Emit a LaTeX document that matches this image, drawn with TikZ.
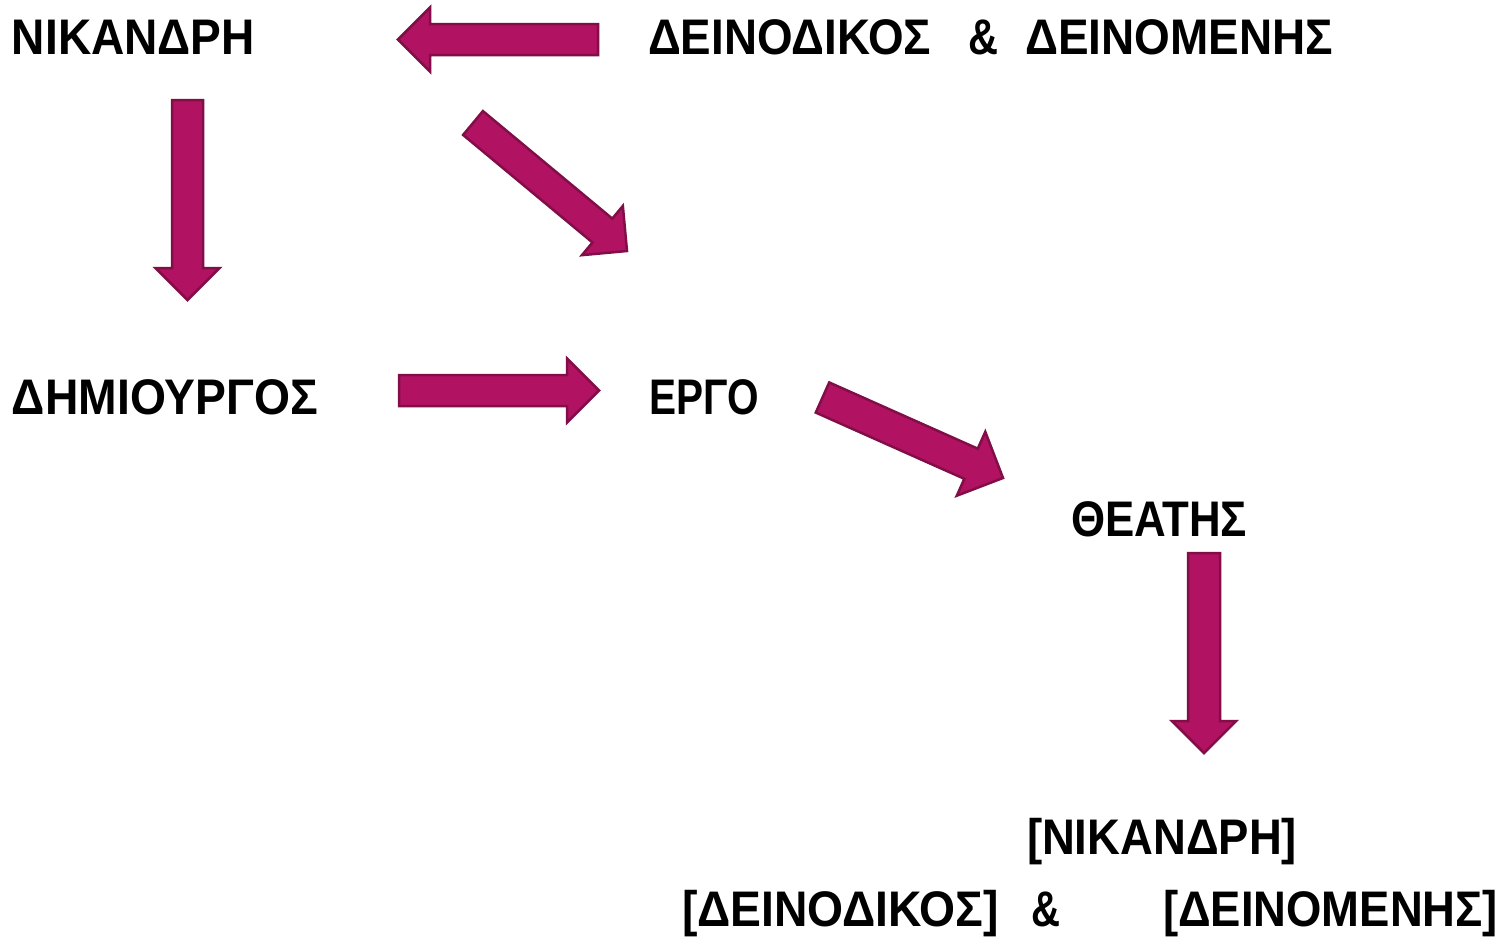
\documentclass[tikz,border=0pt]{standalone}
\usepackage{fontspec}
\setmainfont{Liberation Sans}[BoldFont={* Bold}]
\usepackage{graphicx}
\usetikzlibrary{calc}
\definecolor{arrowfill}{HTML}{B21262}
\definecolor{arrowline}{HTML}{820E48}
\newcommand\fitw[2]{\resizebox{#1}{\height}{#2}}
% block arrow: name, tail, tip, shaft half-width, head half-width
\newcommand\blockarrow[5]{%
  \coordinate (#1-h) at ($(#3)!#5!(#2)$);
  \draw[barrow] ($(#2)!#4!90:(#3)$) -- ($(#1-h)!#4!90:(#3)$) -- ($(#1-h)!#5!90:(#3)$) -- (#3)
    -- ($(#1-h)!#5!-90:(#3)$) -- ($(#1-h)!#4!-90:(#3)$) -- ($(#2)!#4!-90:(#3)$) -- cycle;
}
\begin{document}
\begin{tikzpicture}[x=1pt,y=-1pt,
  lbl/.style={inner sep=0pt, outer sep=0pt, anchor=base west, font=\bfseries\fontsize{50}{60}\selectfont, text=black},
  barrow/.style={fill=arrowfill, draw=arrowline, line width=2.5pt, line join=miter}]
\useasboundingbox[fill=white] (0,0) rectangle (1503,937);

% labels
\node[lbl] (nik) at (12,54) {\fitw{243pt}{ΝΙΚΑΝΔΡΗ}};
\node[lbl] (dd) at (648,54) {\fitw{283pt}{ΔΕΙΝΟΔΙΚΟΣ}\hspace{37pt}\fitw{30pt}{\&}\hspace{27pt}\fitw{308pt}{ΔΕΙΝΟΜΕΝΗΣ}};
\node[lbl] (dim) at (12,414) {\fitw{306pt}{ΔΗΜΙΟΥΡΓΟΣ}};
\node[lbl] (erg) at (649,414) {\fitw{110pt}{ΕΡΓΟ}};
\node[lbl] (the) at (1071,536) {\fitw{176pt}{ΘΕΑΤΗΣ}};
\node[lbl] (nik2) at (1027,854) {\fitw{270pt}{[ΝΙΚΑΝΔΡΗ]}};
\node[lbl] (dd2) at (682,926) {\fitw{317pt}{[ΔΕΙΝΟΔΙΚΟΣ]}\hspace{32pt}\fitw{29pt}{\&}\hspace{103pt}\fitw{335pt}{[ΔΕΙΝΟΜΕΝΗΣ]}};

% arrows
\coordinate (a1t) at (598,39.5);   \coordinate (a1p) at (398,39.5);
\coordinate (a2t) at (187.5,100);  \coordinate (a2p) at (187.5,300);
\coordinate (a3t) at (473,123);    \coordinate (a3p) at (627,251);
\coordinate (a4t) at (399,390.5);  \coordinate (a4p) at (599,390.5);
\coordinate (a5t) at (822.5,397.5);\coordinate (a5p) at (1003,478);
\coordinate (a6t) at (1204,553);   \coordinate (a6p) at (1204,753);
\blockarrow{a1}{a1t}{a1p}{15.5pt}{32pt}
\blockarrow{a2}{a2t}{a2p}{15.5pt}{32pt}
\blockarrow{a3}{a3t}{a3p}{15.5pt}{32pt}
\blockarrow{a4}{a4t}{a4p}{15.5pt}{32pt}
\blockarrow{a5}{a5t}{a5p}{16.5pt}{35pt}
\blockarrow{a6}{a6t}{a6p}{16pt}{32pt}
\end{tikzpicture}
\end{document}
